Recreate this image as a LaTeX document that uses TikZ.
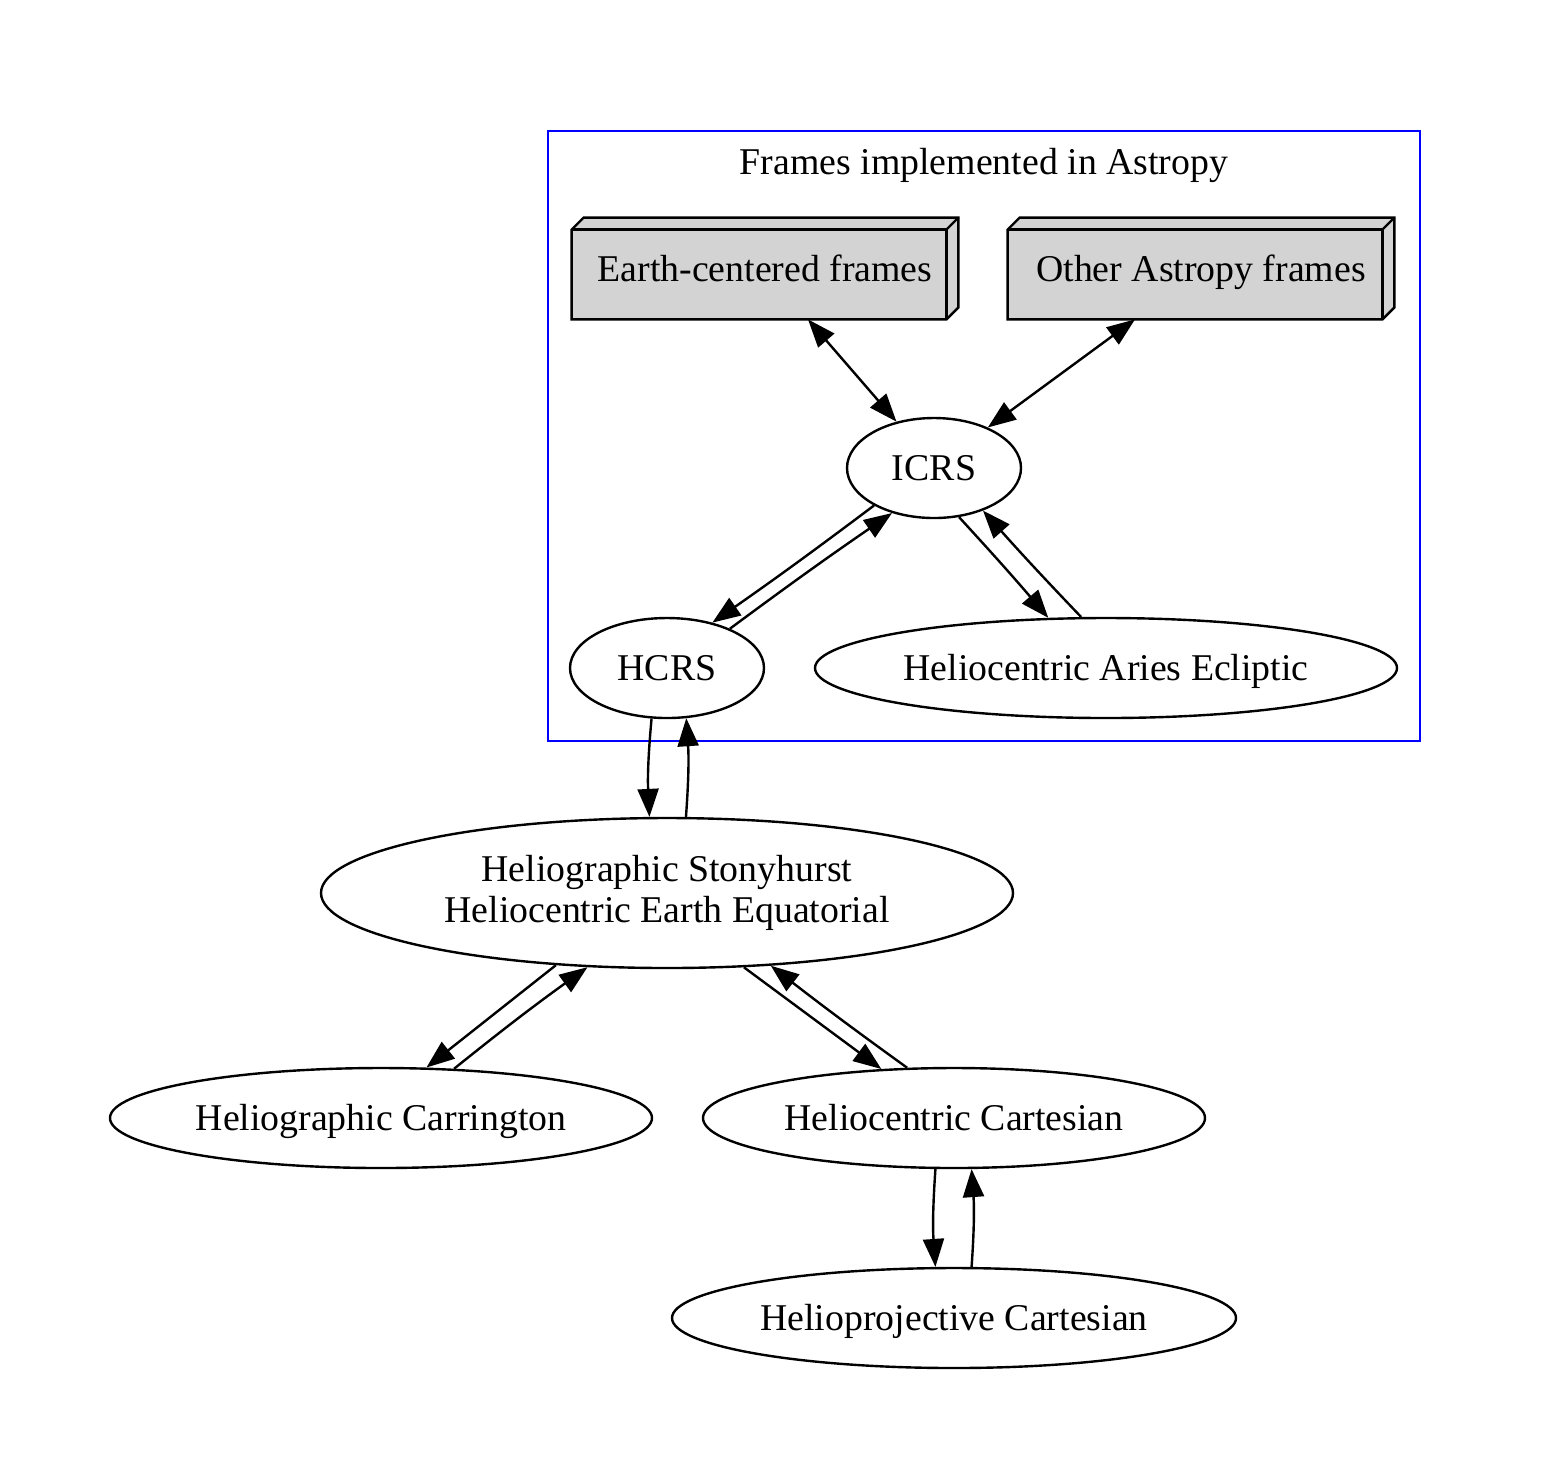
\documentclass[tikz,border=0pt]{standalone}
\usepackage{fontspec}
\setmainfont{Liberation Serif}
\usetikzlibrary{arrows.meta,shapes.geometric,backgrounds}
\definecolor{gvgray}{RGB}{211,211,211}
\begin{document}
\begin{tikzpicture}[x=0.5pt,y=-0.5pt,
  every node/.style={font=\fontsize{18.9}{20.5}\selectfont},
  oneline/.style={text height=17pt, text depth=4.5pt},
  frame/.style={draw, ellipse, line width=1.2pt, inner sep=0pt},
  boxthreed/.style={inner sep=0pt, minimum width=193pt, minimum height=50.5pt, oneline},
  edge/.style={line width=1.2pt, -{Triangle[length=14pt,width=10.5pt]}},
  biedge/.style={line width=1.2pt, {Triangle[length=14pt,width=10.5pt]}-{Triangle[length=14pt,width=10.5pt]}},
  boxline/.style={line width=1.2pt, line join=miter},
]
\useasboundingbox (0,0) rectangle (1552,1480);

% cluster
\node[draw=blue, line width=1.2pt, minimum width=436pt, minimum height=305pt, inner sep=0pt] (cluster) at (984,436) {};
\node[oneline] (clabel) at (984,162) {Frames implemented in Astropy};

% 3d boxes
\node[boxthreed] (earth) at (765,268.5) {Earth-centered frames};
\node[boxthreed] (other) at (1201,268.5) {Other Astropy frames};
\begin{scope}[on background layer]
\foreach \b in {earth,other}{
  \draw[boxline, fill=gvgray]
    ([yshift=-6pt]\b.north west) -- ([xshift=6pt]\b.north west) -- (\b.north east)
    -- ([yshift=6pt]\b.south east) -- ([xshift=-6pt]\b.south east) -- (\b.south west) -- cycle;
  \draw[boxline] ([yshift=-6pt]\b.north west) -- ([xshift=-6pt,yshift=-6pt]\b.north east)
    -- ([xshift=-6pt]\b.south east);
  \draw[boxline] ([xshift=-6pt,yshift=-6pt]\b.north east) -- (\b.north east);
}
\end{scope}

% ellipses
\node[frame, oneline, minimum width=87pt, minimum height=50pt] (icrs) at (934,468) {ICRS};
\node[frame, oneline, minimum width=97pt, minimum height=50pt] (hcrs) at (667,668) {HCRS};
\node[frame, oneline, minimum width=291pt, minimum height=50pt] (aries) at (1106,668) {Heliocentric Aries Ecliptic};
\node[frame, minimum width=346pt, minimum height=75pt, align=center] (hs) at (667,893) {\raisebox{-1pt}{Heliographic Stonyhurst}\\\raisebox{-1pt}{Heliocentric Earth Equatorial}};
\node[frame, oneline, minimum width=271pt, minimum height=50pt] (carr) at (381,1118) {Heliographic Carrington};
\node[frame, oneline, minimum width=251pt, minimum height=50pt] (cart) at (954,1118) {Heliocentric Cartesian};
\node[frame, oneline, minimum width=282pt, minimum height=50pt] (hpc) at (954,1318) {Helioprojective Cartesian};

% edges
\draw[biedge] ([xshift=21.5pt]earth.south) -- (icrs.129);
\draw[biedge] ([xshift=-33pt]other.south) -- (icrs.37);

\draw[edge] (icrs.212) to[bend left=1] (hcrs.45);
\draw[edge] (hcrs.32) to[bend left=1] (icrs.227);
\draw[edge] (icrs.297) to[bend left=1] (aries.139);
\draw[edge] (aries.116) to[bend left=1] (icrs.319);

\draw[edge] (hcrs.253) to[bend right=4] (hs.103);
\draw[edge] (hs.76) to[bend right=4] (hcrs.291);

\draw[edge] (hs.213) -- (carr.48);
\draw[edge] (carr.34) to[bend left=1.5] (hs.223.5);
\draw[edge] (hs.316) -- (cart.146);
\draw[edge] (cart.133) to[bend left=1] (hs.325.6);

\draw[edge] (cart.250) to[bend right=4] (hpc.110);
\draw[edge] (hpc.71) to[bend right=4] (cart.289);
\end{tikzpicture}
\end{document}
